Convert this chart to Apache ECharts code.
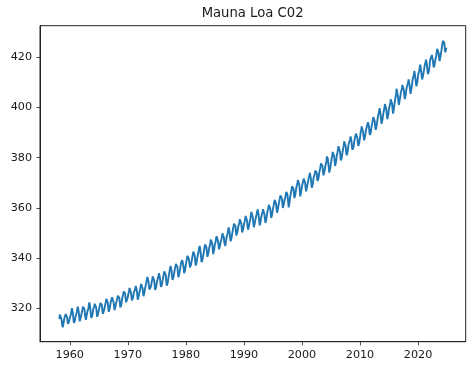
<!DOCTYPE html>
<html>
<head>
<meta charset="utf-8">
<script src="https://cdn.jsdelivr.net/npm/echarts@6/dist/echarts.min.js"></script>
<style>
html,body{margin:0;padding:0;background:#fff;}
#chart{width:474px;height:371px;}
</style>
</head>
<body>
<div id="chart"></div>
<script>
// Monthly mean CO2 at Mauna Loa (ppm), first value = March 1958, last = November 2024
const START_YEAR = 1958;
const START_MONTH = 3;
const co2_1950s = [
  315.7, 317.5, 317.5, 317.2, 315.9, 314.9, 313.2, 312.4, 313.3, 314.7,
  315.6, 316.4, 316.7, 317.7, 318.3, 318.2, 316.5, 314.8, 313.8, 313.3, 314.8, 315.6
];
const co2_1960s = [
  316.4, 317.0, 317.6, 319.0, 320.0, 319.6, 318.2, 315.9, 314.2, 313.8, 315.0, 316.2,
  316.9, 317.7, 318.5, 319.5, 320.6, 319.8, 318.6, 316.8, 314.8, 315.4, 316.1, 317.0,
  317.9, 318.6, 319.7, 320.6, 321.0, 320.6, 319.6, 317.4, 316.3, 315.4, 316.7, 317.7,
  318.7, 319.1, 319.9, 321.4, 322.3, 321.5, 319.7, 317.8, 316.2, 316.0, 317.1, 318.4,
  319.6, 320.1, 320.7, 321.8, 322.3, 321.9, 320.4, 318.7, 316.7, 316.9, 317.7, 318.7,
  319.4, 320.4, 320.9, 322.1, 322.2, 321.9, 321.2, 318.9, 317.8, 317.3, 318.9, 319.4,
  320.6, 321.6, 322.4, 323.7, 324.1, 323.8, 322.4, 320.4, 318.6, 318.1, 319.8, 321.0,
  322.3, 322.5, 323.0, 324.4, 325.0, 324.1, 322.5, 320.9, 319.3, 319.4, 320.7, 322.0,
  322.6, 323.2, 323.9, 325.0, 325.6, 325.4, 324.1, 322.1, 320.3, 320.3, 321.3, 322.9,
  324.0, 324.4, 325.6, 326.7, 327.4, 326.7, 325.9, 323.7, 322.4, 321.8, 322.9, 324.1
];
const co2_1970s = [
  325.1, 326.0, 326.9, 328.1, 328.1, 327.7, 326.3, 324.7, 323.1, 323.1, 324.0, 325.1,
  326.2, 326.7, 327.2, 327.8, 328.9, 328.6, 327.4, 325.4, 323.4, 323.6, 324.8, 326.0,
  326.8, 327.6, 327.8, 329.7, 330.1, 329.1, 328.0, 326.3, 324.8, 325.2, 326.5, 327.6,
  328.6, 329.6, 330.3, 331.5, 332.5, 332.1, 330.9, 329.3, 327.5, 327.2, 328.2, 328.6,
  329.4, 330.7, 331.5, 332.7, 333.2, 332.2, 331.1, 329.2, 327.3, 327.3, 328.3, 329.6,
  330.7, 331.5, 331.9, 333.1, 334.0, 333.4, 332.0, 330.0, 328.5, 328.4, 329.4, 330.6,
  331.6, 332.7, 333.4, 334.7, 334.7, 334.0, 333.1, 330.7, 329.0, 328.7, 330.2, 331.6,
  332.7, 333.2, 335.0, 336.1, 336.9, 336.2, 334.9, 332.6, 331.3, 331.3, 332.5, 333.6,
  334.9, 335.3, 336.7, 337.7, 338.0, 338.0, 336.5, 334.4, 332.4, 332.5, 333.8, 334.9,
  336.1, 336.7, 338.3, 338.8, 339.2, 339.3, 337.5, 335.7, 334.0, 334.2, 335.3, 336.8
];
const co2_1980s = [
  337.9, 338.3, 340.1, 340.9, 341.5, 341.4, 339.5, 337.7, 336.3, 336.1, 337.3, 338.3,
  339.3, 340.6, 341.6, 342.6, 343.0, 342.5, 340.8, 338.5, 337.0, 337.1, 338.6, 339.9,
  340.9, 341.8, 342.8, 344.0, 344.8, 343.9, 342.4, 340.2, 338.4, 338.4, 339.4, 340.8,
  341.6, 342.8, 343.4, 345.4, 346.1, 345.8, 344.3, 342.5, 340.5, 340.5, 341.8, 343.2,
  344.2, 344.9, 345.7, 347.4, 347.8, 347.2, 345.8, 343.7, 341.6, 341.9, 343.3, 345.0,
  345.5, 346.4, 347.9, 348.7, 349.3, 348.7, 346.9, 345.3, 343.5, 343.4, 344.7, 346.1,
  346.8, 347.5, 348.3, 349.9, 350.5, 350.0, 348.3, 346.2, 345.5, 344.8, 346.2, 347.5,
  348.7, 348.9, 349.8, 351.4, 352.2, 351.6, 350.2, 348.2, 346.7, 346.7, 348.1, 349.3,
  350.5, 351.7, 352.5, 353.7, 354.4, 353.9, 352.8, 350.5, 349.0, 349.4, 350.4, 351.6,
  352.8, 353.1, 353.8, 355.5, 355.7, 355.1, 353.9, 352.0, 350.2, 350.3, 351.6, 352.8
];
const co2_1990s = [
  353.8, 354.6, 355.6, 356.8, 357.3, 356.6, 354.9, 352.7, 351.3, 351.2, 352.6, 354.0,
  354.7, 355.7, 357.1, 358.4, 359.1, 358.1, 356.1, 353.8, 352.3, 352.4, 353.9, 355.1,
  356.0, 356.8, 357.6, 358.6, 359.4, 358.7, 357.2, 355.1, 353.0, 353.2, 354.6, 356.0,
  356.8, 357.2, 358.4, 359.5, 360.2, 359.4, 357.4, 355.4, 354.0, 354.1, 355.7, 357.0,
  358.4, 359.1, 359.9, 361.2, 361.7, 361.0, 359.7, 357.5, 356.0, 356.2, 357.6, 359.1,
  360.0, 360.9, 361.6, 363.2, 363.5, 363.0, 361.7, 359.6, 358.1, 358.2, 359.8, 361.1,
  362.0, 363.1, 363.8, 365.0, 365.5, 365.0, 363.8, 361.8, 360.0, 360.1, 361.5, 362.8,
  363.2, 364.0, 364.6, 366.4, 366.8, 365.6, 364.5, 362.5, 360.2, 360.8, 362.4, 364.3,
  365.3, 366.2, 367.3, 368.6, 369.3, 368.9, 367.6, 365.8, 363.9, 364.2, 365.5, 367.0,
  368.2, 368.9, 369.6, 371.1, 371.0, 370.4, 369.3, 366.9, 364.6, 365.1, 366.7, 368.0
];
const co2_2000s = [
  369.1, 369.5, 370.5, 371.7, 371.8, 371.7, 370.1, 368.1, 366.6, 366.7, 368.3, 369.5,
  370.3, 371.5, 372.1, 372.9, 374.0, 373.3, 371.6, 369.6, 368.0, 368.1, 369.7, 371.2,
  372.4, 373.1, 373.5, 374.9, 375.6, 375.4, 374.0, 371.5, 370.7, 370.2, 372.1, 373.8,
  374.7, 375.6, 376.1, 377.7, 378.4, 378.1, 376.6, 374.5, 373.0, 373.0, 374.4, 375.7,
  376.8, 377.4, 378.4, 380.5, 380.6, 379.6, 377.8, 375.9, 374.1, 374.2, 375.9, 377.5,
  378.5, 379.7, 380.8, 382.3, 382.5, 382.2, 380.7, 378.7, 376.7, 377.0, 378.4, 380.1,
  381.4, 382.2, 382.7, 384.6, 385.0, 384.1, 382.5, 380.4, 378.9, 379.1, 380.2, 381.8,
  382.9, 383.9, 384.6, 386.5, 386.6, 386.1, 384.5, 382.0, 381.0, 381.1, 382.5, 384.0,
  385.5, 385.8, 386.0, 387.2, 388.5, 387.8, 386.4, 384.1, 383.2, 383.0, 384.2, 385.6,
  386.9, 387.5, 388.8, 389.6, 390.1, 389.5, 388.0, 386.1, 384.7, 384.4, 386.0, 387.4
];
const co2_2010s = [
  388.7, 390.2, 391.2, 392.5, 393.0, 392.2, 390.2, 388.4, 386.9, 387.2, 388.7, 389.8,
  391.3, 391.9, 392.6, 393.3, 394.2, 393.7, 392.5, 390.1, 389.1, 389.0, 390.3, 391.9,
  393.1, 393.9, 394.4, 396.2, 396.7, 395.7, 394.4, 392.4, 391.1, 391.1, 393.0, 394.3,
  395.6, 396.8, 397.4, 398.4, 399.8, 398.6, 397.3, 395.2, 393.5, 393.7, 395.2, 396.8,
  397.9, 398.0, 399.8, 401.4, 401.8, 401.3, 399.1, 397.0, 395.4, 396.0, 397.3, 398.9,
  400.0, 400.3, 401.5, 403.3, 404.0, 402.8, 401.3, 398.9, 397.6, 398.3, 400.2, 401.9,
  402.6, 404.1, 404.9, 407.5, 407.7, 406.8, 404.4, 402.3, 401.1, 401.6, 403.6, 404.5,
  406.2, 406.5, 407.2, 409.0, 409.7, 408.9, 407.1, 405.1, 403.4, 403.6, 405.1, 406.8,
  408.0, 408.3, 409.4, 410.2, 411.2, 410.8, 408.7, 407.0, 405.5, 406.0, 408.0, 409.1,
  410.8, 411.8, 412.0, 413.3, 414.6, 413.9, 411.7, 410.0, 408.5, 408.5, 410.3, 411.8
];
const co2_2020s = [
  413.4, 414.1, 414.5, 416.2, 417.1, 416.4, 414.4, 412.5, 411.2, 411.1, 412.9, 414.0,
  415.2, 416.5, 417.2, 418.2, 419.1, 419.0, 416.7, 414.5, 413.3, 413.9, 414.7, 416.1,
  418.2, 419.3, 418.8, 420.2, 421.0, 421.0, 418.9, 417.2, 416.0, 415.8, 417.5, 419.0,
  419.5, 420.3, 421.0, 423.4, 424.0, 423.7, 421.8, 419.7, 418.5, 418.8, 420.5, 421.9,
  422.8, 424.6, 425.4, 426.6, 426.9, 426.9, 425.6, 423.0, 422.0, 422.4, 423.9
];
const xTickLabels = [1960, 1970, 1980, 1990, 2000, 2010, 2020];
const yTickLabels = [320, 340, 360, 380, 400, 420];
const chartTitle = 'Mauna Loa C02';

const co2 = [].concat(co2_1950s, co2_1960s, co2_1970s, co2_1980s, co2_1990s, co2_2000s, co2_2010s, co2_2020s);
const points = co2.map(function (v, i) {
  const mIdx = START_MONTH - 1 + i;
  const year = START_YEAR + Math.floor(mIdx / 12);
  const month = mIdx % 12;
  return [year + (month + 0.5) / 12, v];
});

function padded(arr) {
  const lo = Math.min.apply(null, arr), hi = Math.max.apply(null, arr);
  const m = (hi - lo) * 0.05;
  return [lo - m, hi + m];
}
const xr = padded(points.map(p => p[0]));
const yr = padded(co2);

const FONT = 'DejaVu Sans';
const TXT = '#1a1a1a';

const chart = echarts.init(document.getElementById('chart'), null, { renderer: 'canvas' });
chart.setOption({
  animation: false,
  backgroundColor: '#ffffff',
  grid: {
    left: 40, right: 8.3, top: 25.7, bottom: 29.3,
    show: true, borderColor: '#222', borderWidth: 1,
    containLabel: false, outerBoundsMode: 'none'
  },
  graphic: [{
    type: 'text', x: 252.6, y: 14,
    style: {
      text: chartTitle, font: '13.2px "' + FONT + '"', fill: TXT,
      textAlign: 'center', textVerticalAlign: 'middle', align: 'center', verticalAlign: 'middle'
    }
  }],
  xAxis: {
    type: 'value', min: xr[0], max: xr[1],
    splitLine: { show: false },
    axisLine: { show: true, lineStyle: { color: '#222', width: 1 } },
    axisTick: { show: true, customValues: xTickLabels, length: 3.6, lineStyle: { color: '#222', width: 0.8 } },
    axisLabel: { customValues: xTickLabels, fontFamily: FONT, fontSize: 11.2, color: TXT, margin: 8,
      formatter: function (v) { return String(Math.round(v)); } }
  },
  yAxis: {
    type: 'value', min: yr[0], max: yr[1],
    splitLine: { show: false },
    axisLine: { show: true, lineStyle: { color: '#222', width: 1 } },
    axisTick: { show: true, customValues: yTickLabels, length: 3.6, lineStyle: { color: '#222', width: 0.8 } },
    axisLabel: { customValues: yTickLabels, fontFamily: FONT, fontSize: 11.2, color: TXT, margin: 8,
      formatter: function (v) { return String(Math.round(v)); } }
  },
  series: [{
    type: 'line', data: points, showSymbol: false, symbol: 'none',
    lineStyle: { color: '#1f77b4', width: 1.9 }, itemStyle: { color: '#1f77b4' },
    emphasis: { disabled: true }
  }]
});
</script>
</body>
</html>
